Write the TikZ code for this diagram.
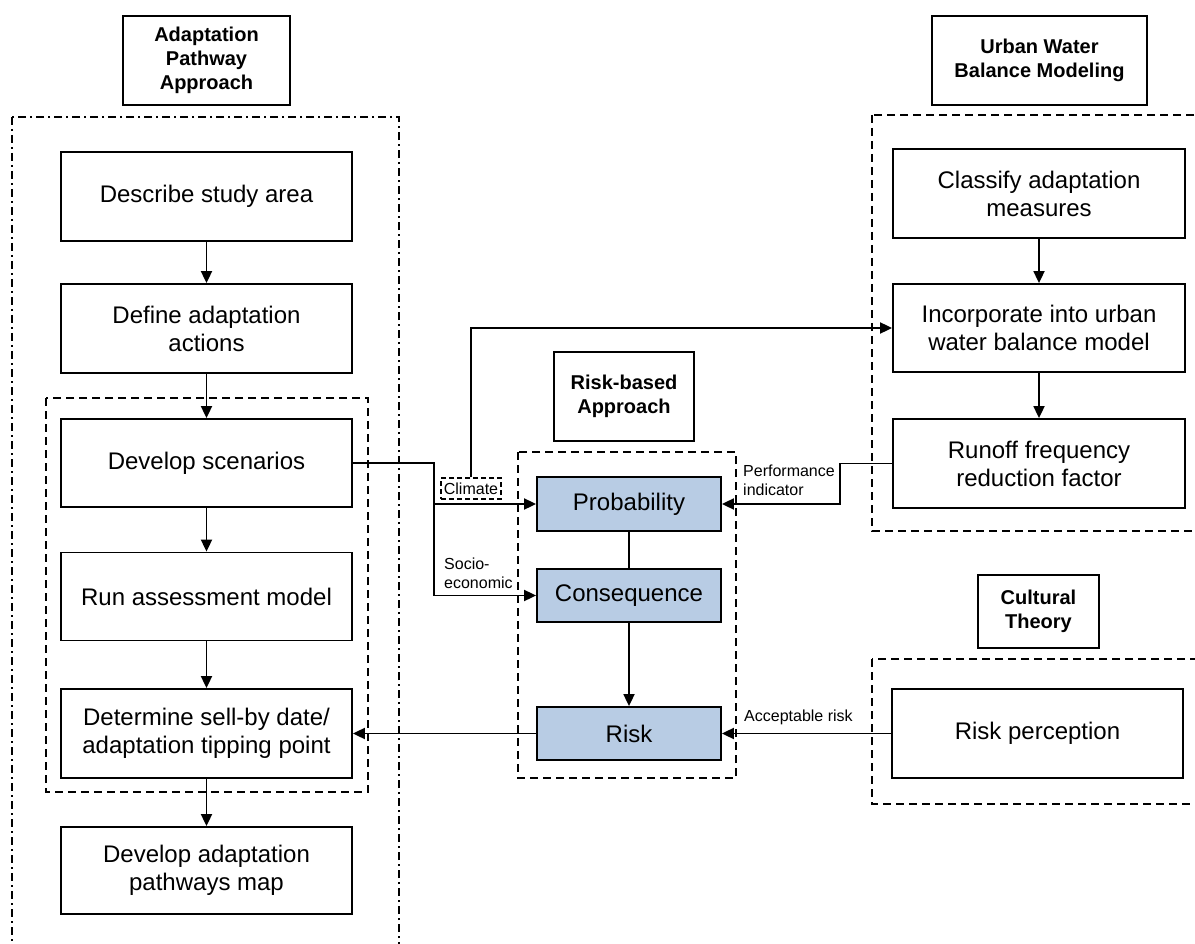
\documentclass[tikz,border=0pt]{standalone}
\usepackage{fontspec}
\setmainfont{Liberation Sans}
\usetikzlibrary{arrows.meta}
\definecolor{riskblue}{RGB}{184,204,228}
\begin{document}
\begin{tikzpicture}[x=1pt,y=-1pt,
  box/.style={draw, line width=1.8pt, align=center, inner sep=0pt,
    font=\fontsize{24}{28}\selectfont},
  titlebox/.style={draw, line width=1.8pt, align=center, inner sep=0pt,
    font=\fontsize{20}{24}\selectfont\bfseries},
  bluebox/.style={box, fill=riskblue},
  dashframe/.style={draw, line width=1.8pt, dash pattern=on 8pt off 5pt},
  dotframe/.style={draw, line width=1.8pt, dash pattern=on 8pt off 4pt on 2pt off 4pt},
  lbl/.style={inner sep=0pt, align=left, font=\fontsize{16}{19}\selectfont},
  arr/.style={line width=1.8pt, -{Triangle[length=12pt,width=11pt]}},
  con/.style={line width=1.8pt}]
\useasboundingbox (0,0) rectangle (1195,944);

% group frames
\draw[dotframe] (12,117) rectangle (399,970);
\draw[dashframe] (46,398) rectangle (368,792);
\draw[dashframe] (518,452) rectangle (736,778);
\draw[dashframe] (872,115) rectangle (1215,531);
\draw[dashframe] (872,659) rectangle (1215,804);

% titles
\node[titlebox, minimum width=167pt, minimum height=89pt] (tap) at (206.5,60.5) {Adaptation\\Pathway\\Approach};
\node[titlebox, minimum width=140pt, minimum height=89pt] (trb) at (624,396.5) {Risk-based\\Approach};
\node[titlebox, minimum width=215pt, minimum height=89pt] (tuw) at (1039.5,60.5) {Urban Water\\Balance Modeling};
\node[titlebox, minimum width=121pt, minimum height=73pt] (tct) at (1038.5,611.5) {Cultural\\Theory};

% adaptation pathway steps
\node[box, minimum width=291pt, minimum height=89pt] (desc) at (206.5,196.5) {Describe study area};
\node[box, minimum width=291pt, minimum height=89pt] (def) at (206.5,328.5) {Define adaptation\\actions};
\node[box, minimum width=291pt, minimum height=88pt] (scen) at (206.5,463) {Develop scenarios};
\node[box, minimum width=291pt, minimum height=88pt] (run) at (206.5,596.5) {Run assessment model};
\node[box, minimum width=291pt, minimum height=89pt] (det) at (206.5,733.5) {Determine sell-by date/\\adaptation tipping point};
\node[box, minimum width=291pt, minimum height=87pt] (map) at (206.5,870.5) {Develop adaptation\\pathways map};

% risk-based steps
\node[bluebox, minimum width=184pt, minimum height=54pt] (prob) at (629,504) {Probability};
\node[bluebox, minimum width=184pt, minimum height=53pt] (cons) at (629,595.5) {Consequence};
\node[bluebox, minimum width=184pt, minimum height=53pt] (risk) at (629,733.5) {Risk};

% urban water balance steps
\node[box, minimum width=292pt, minimum height=89pt] (cls) at (1039,193.5) {Classify adaptation\\measures};
\node[box, minimum width=292pt, minimum height=88pt] (inc) at (1039,328) {Incorporate into urban\\water balance model};
\node[box, minimum width=292pt, minimum height=89pt] (rof) at (1039,463.5) {Runoff frequency\\reduction factor};

% cultural theory step
\node[box, minimum width=291pt, minimum height=89pt] (rp) at (1037.5,733.5) {Risk perception};

% scenario labels
\node[lbl, draw, line width=1.4pt, dash pattern=on 5pt off 3pt, minimum width=60pt, minimum height=21pt, align=center] (clim) at (471,488.5) {Climate};
\node[lbl, anchor=west] (socio) at (444,573) {Socio-\\economic};
\node[lbl, anchor=west] (perf) at (743,480) {Performance\\indicator};
\node[lbl, anchor=west] (acc) at (744,717) {Acceptable risk};

% junction columns
\coordinate (jx) at (434,0);
\coordinate (px) at (840,0);

% adaptation pathway flow
\draw[arr] (desc) -- (def);
\draw[arr] (def) -- (scen);
\draw[arr] (scen) -- (run);
\draw[arr] (run) -- (det);
\draw[arr] (det) -- (map);

% scenarios into the risk assessment
\draw[arr] (scen.east) -| (jx |- prob.west) -- (prob.west);
\draw[arr] (jx |- prob.west) |- (cons.west);
\draw[arr] (clim.north) |- (inc.west);

% risk-based flow
\draw[con] (prob) -- (cons);
\draw[arr] (cons) -- (risk);
\draw[arr] (risk.west) -- (risk.west -| det.east);

% urban water balance flow
\draw[arr] (cls) -- (inc);
\draw[arr] (inc) -- (rof);
\draw[arr] (rof.west) -| (px |- prob.east) -- (prob.east);

% acceptable risk
\draw[arr] (rp.west) -- (rp.west -| risk.east);
\end{tikzpicture}
\end{document}
